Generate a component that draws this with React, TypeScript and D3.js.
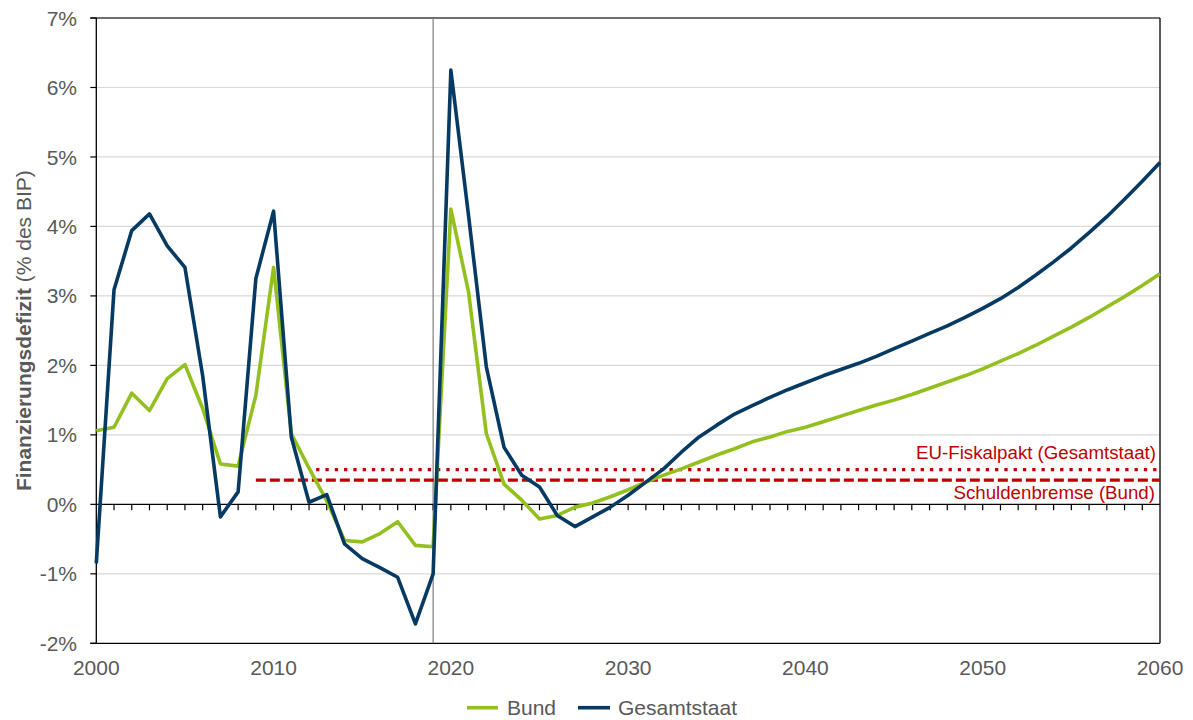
import React from "react";
import * as d3 from "d3";

const years: number[] = d3.range(2000, 2061);

const bund: number[] = [
  1.06, 1.11, 1.6, 1.35, 1.81, 2.01, 1.38, 0.58, 0.55, 1.57,
  3.41, 1.02, 0.52, 0.05, -0.52, -0.54, -0.42, -0.25, -0.59, -0.61,
  4.25, 3.05, 1.02, 0.29, 0.06, -0.21, -0.16, -0.04, 0.02, 0.11,
  0.21, 0.32, 0.42, 0.51, 0.61, 0.71, 0.8, 0.9, 0.97, 1.05,
  1.11, 1.19, 1.27, 1.35, 1.43, 1.5, 1.58, 1.67, 1.76, 1.85,
  1.95, 2.06, 2.17, 2.29, 2.42, 2.55, 2.69, 2.84, 2.99, 3.15,
  3.32,
];

const gesamtstaat: number[] = [
  -0.85, 3.09, 3.94, 4.18, 3.72, 3.41, 1.85, -0.18, 0.18, 3.25,
  4.22, 0.97, 0.03, 0.14, -0.57, -0.78, -0.91, -1.05, -1.72, -1.0,
  6.25, 4.15, 1.98, 0.82, 0.42, 0.25, -0.16, -0.32, -0.18, -0.04,
  0.13, 0.32, 0.51, 0.75, 0.97, 1.14, 1.3, 1.42, 1.54, 1.65,
  1.75, 1.85, 1.94, 2.03, 2.13, 2.24, 2.35, 2.46, 2.57, 2.69,
  2.82, 2.96, 3.12, 3.3, 3.49, 3.69, 3.91, 4.14, 4.39, 4.65,
  4.92,
];

const yTicks: number[] = [-2, -1, 0, 1, 2, 3, 4, 5, 6, 7];
const xTickLabels: number[] = [2000, 2010, 2020, 2030, 2040, 2050, 2060];
const markerYear = 2019;

const fiskalpakt = { label: "EU-Fiskalpakt (Gesamtstaat)", value: 0.5, from: 2012.4, to: 2060 };
const schuldenbremse = { label: "Schuldenbremse (Bund)", value: 0.35, from: 2009, to: 2060 };

const seriesInfo = [
  { name: "Bund", values: bund, color: "#93c01f" },
  { name: "Gesamtstaat", values: gesamtstaat, color: "#063a63" },
];

const W = 1193;
const H = 720;
const left = 96.3;
const right = 1160;
const top = 18;
const bottom = 643.3;
const FONT = "'Liberation Sans', Arial, sans-serif";
const TEXT = "#595959";
const RED = "#c00000";

export default function App() {
  const x = d3.scaleLinear().domain([2000, 2060]).range([left, right]);
  const y = d3.scaleLinear().domain([-2, 7]).range([bottom, top]);
  const line = d3
    .line<[number, number]>()
    .x((d) => x(d[0]))
    .y((d) => y(d[1]));

  return (
    <svg
      width={W}
      height={H}
      style={{ position: "absolute", left: 0, top: 0 }}
      fontFamily={FONT}
    >
      <rect width={W} height={H} fill="#fff" />
      {/* gridlines */}
      {yTicks
        .filter((t) => t !== 0 && t !== 7 && t !== -2)
        .map((t) => (
          <line key={"g" + t} x1={left} x2={right} y1={y(t)} y2={y(t)} stroke="#d9d9d9" strokeWidth={1.2} />
        ))}
      {/* frame */}
      <line x1={left - 6} x2={right} y1={y(7)} y2={y(7)} stroke="#404040" strokeWidth={1.3} />
      <line x1={left - 6} x2={right} y1={y(-2)} y2={y(-2)} stroke="#000" strokeWidth={1.3} />
      <line x1={right} x2={right} y1={top} y2={bottom} stroke="#000" strokeWidth={1.3} />
      <line x1={left} x2={left} y1={top} y2={bottom} stroke="#000" strokeWidth={1.3} />
      {/* y ticks and labels */}
      {yTicks.map((t) => (
        <g key={"y" + t}>
          <line x1={left - 6} x2={left} y1={y(t)} y2={y(t)} stroke="#000" strokeWidth={1.2} />
          <text x={77} y={y(t)} dy="0.36em" textAnchor="end" fontSize={21} fill={TEXT}>
            {t + "%"}
          </text>
        </g>
      ))}
      {/* vertical marker */}
      <line x1={x(markerYear)} x2={x(markerYear)} y1={top} y2={bottom} stroke="#7f7f7f" strokeWidth={1.2} />
      {/* zero axis with ticks */}
      <line x1={left} x2={right} y1={y(0)} y2={y(0)} stroke="#000" strokeWidth={1.3} />
      {years.slice(1, -1).map((yr) => (
        <line key={"xt" + yr} x1={x(yr)} x2={x(yr)} y1={y(0)} y2={y(0) + 6} stroke="#000" strokeWidth={1.2} />
      ))}
      {/* x labels */}
      {xTickLabels.map((t) => (
        <text key={"xl" + t} x={x(t)} y={675} textAnchor="middle" fontSize={21} fill={TEXT}>
          {t}
        </text>
      ))}
      {/* reference lines */}
      <line
        x1={x(schuldenbremse.from)}
        x2={x(schuldenbremse.to)}
        y1={y(schuldenbremse.value)}
        y2={y(schuldenbremse.value)}
        stroke={RED}
        strokeWidth={3.3}
        strokeDasharray="10,4"
      />
      <line
        x1={x(fiskalpakt.from)}
        x2={x(fiskalpakt.to)}
        y1={y(fiskalpakt.value)}
        y2={y(fiskalpakt.value)}
        stroke={RED}
        strokeWidth={3.3}
        strokeDasharray="3.3,6"
      />
      {/* series */}
      {seriesInfo.map((s) => (
        <path
          key={s.name}
          d={line(years.map((yr, i) => [yr, s.values[i]] as [number, number])) || ""}
          fill="none"
          stroke={s.color}
          strokeWidth={3.6}
          strokeLinejoin="round"
        />
      ))}
      {/* reference labels */}
      <text x={1156} y={459} textAnchor="end" fontSize={18.7} fill={RED}>
        {fiskalpakt.label}
      </text>
      <text x={1155} y={498.5} textAnchor="end" fontSize={18.7} fill={RED}>
        {schuldenbremse.label}
      </text>
      {/* y axis title */}
      <text
        transform={`translate(23,${(top + bottom) / 2}) rotate(-90)`}
        textAnchor="middle"
        dominantBaseline="central"
        fontSize={21}
        fill={TEXT}
      >
        <tspan fontWeight="bold">Finanzierungsdefizit</tspan>
        <tspan> (% des BIP)</tspan>
      </text>
      {/* legend */}
      <line x1={467} x2={498} y1={707.7} y2={707.7} stroke={seriesInfo[0].color} strokeWidth={3.6} />
      <text x={507} y={714.5} fontSize={21} fill={TEXT}>
        {seriesInfo[0].name}
      </text>
      <line x1={578} x2={610} y1={707.7} y2={707.7} stroke={seriesInfo[1].color} strokeWidth={3.6} />
      <text x={618} y={714.5} fontSize={21} fill={TEXT}>
        {seriesInfo[1].name}
      </text>
    </svg>
  );
}
